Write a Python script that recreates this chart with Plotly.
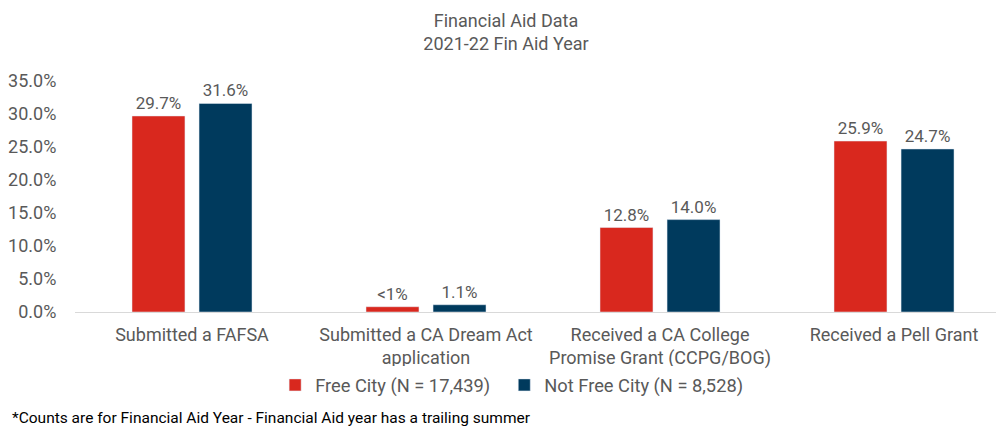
import plotly.graph_objects as go

categories = ["Submitted a FAFSA", "Submitted a CA Dream Act<br>application",
              "Received a CA College<br>Promise Grant (CCPG/BOG)", "Received a Pell Grant"]
free_city = [29.7, 0.8, 12.8, 25.9]
free_city_labels = ["29.7%", "<1%", "12.8%", "25.9%"]
not_free_city = [31.6, 1.1, 14.0, 24.7]
not_free_city_labels = ["31.6%", "1.1%", "14.0%", "24.7%"]
tick_vals = [0, 5, 10, 15, 20, 25, 30, 35]
tick_text = ["0.0%", "5.0%", "10.0%", "15.0%", "20.0%", "25.0%", "30.0%", "35.0%"]

FONT = "Roboto"
GREY = "#595959"

fig = go.Figure()
fig.add_trace(go.Bar(name="Free City (N = 17,439)\u00a0\u00a0", x=categories, y=free_city,
                     text=free_city_labels, textposition="outside", cliponaxis=False,
                     marker_color="#D9281E",
                     textfont=dict(family=FONT, size=17, color=GREY)))
fig.add_trace(go.Bar(name="Not Free City (N = 8,528)", x=categories, y=not_free_city,
                     text=not_free_city_labels, textposition="outside", cliponaxis=False,
                     marker_color="#003A5D",
                     textfont=dict(family=FONT, size=17, color=GREY)))

fig.update_layout(
    width=996, height=422,
    margin=dict(l=67, r=0, t=73, b=118, autoexpand=False),
    paper_bgcolor="white", plot_bgcolor="white",
    barmode="group", bargap=0.427, bargroupgap=0.21,
    font=dict(family=FONT, size=18, color=GREY),
    title=dict(text="Financial Aid Data<br>2021-22 Fin Aid Year", x=0.5, xref="container",
               xanchor="center", y=0.955, yanchor="top",
               font=dict(family=FONT, size=18, color=GREY)),
    showlegend=True,
    legend=dict(orientation="h", x=0.47, xanchor="center", y=-0.316, yanchor="middle",
                font=dict(family=FONT, size=18.3, color=GREY), traceorder="normal",
                itemwidth=30),
    yaxis=dict(range=[0, 35], tickvals=tick_vals, ticktext=tick_text, showgrid=False,
               zeroline=False, showline=False, ticks="outside", ticklen=14,
               tickcolor="rgba(0,0,0,0)",
               tickfont=dict(family=FONT, size=18, color=GREY)),
    xaxis=dict(range=[-0.5, 3.47], showline=True, linecolor="#D9D9D9", linewidth=1,
               ticks="outside", ticklen=6, tickcolor="rgba(0,0,0,0)",
               tickfont=dict(family=FONT, size=18, color=GREY)),
    annotations=[dict(text="*Counts are for Financial Aid Year - Financial Aid year has a trailing summer",
                      xref="paper", yref="paper", x=-0.07, y=-0.459, xanchor="left",
                      yanchor="middle", showarrow=False,
                      font=dict(family=FONT, size=15.5, color="#000000"))],
)

fig.write_html("out.html")
